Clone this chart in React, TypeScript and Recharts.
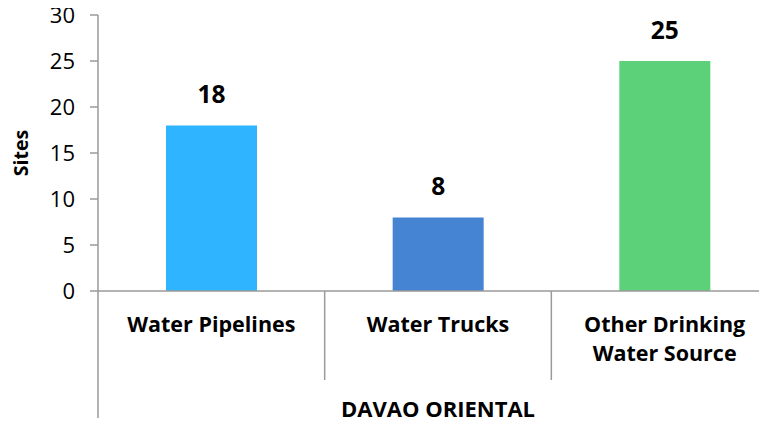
import { BarChart, Bar, XAxis, YAxis, Cell, LabelList, Label } from 'recharts';

const categories = ['Water Pipelines', 'Water Trucks', 'Other Drinking Water Source'];
const sites = [18, 8, 25];
const barColors = ['#2FB4FF', '#4584D3', '#5CD17A'];
const yTicks = [0, 5, 10, 15, 20, 25, 30];
const groupLabel = 'DAVAO ORIENTAL';

const data = categories.map((name, i) => ({ name, sites: sites[i] }));

const CHART_W = 778;
const CHART_H = 426;
const Y_AXIS_W = 98;
const PLOT_W = CHART_W - Y_AXIS_W;
const AXIS_COLOR = '#9a9a9a';
const FONT = '"Open Sans", Lato, sans-serif';

// greedy word wrap so long category names go on two lines
const wrapWords = (text: string, maxChars: number) => {
  const lines: string[] = [];
  let cur = '';
  text.split(' ').forEach((w) => {
    const next = cur ? cur + ' ' + w : w;
    if (next.length > maxChars && cur) {
      lines.push(cur);
      cur = w;
    } else {
      cur = next;
    }
  });
  if (cur) lines.push(cur);
  return lines;
};

// category label plus the Excel-style divider lines under the axis
const CategoryTick = (props: any) => {
  const { x, y, payload, index } = props;
  const band = PLOT_W / categories.length;
  const left = x - band / 2;
  const lines = wrapWords(String(payload.value), 16);
  return (
    <g>
      {index === 0 ? (
        <line x1={left} x2={left} y1={y} y2={y + 135} stroke={AXIS_COLOR} strokeWidth={1.5} />
      ) : (
        <line x1={left} x2={left} y1={y} y2={y + 89} stroke={AXIS_COLOR} strokeWidth={1.5} />
      )}
      <text
        x={x}
        y={y + 41}
        textAnchor="middle"
        fontSize={21.5}
        fontWeight="bold"
        fontFamily={FONT}
        fill="#000"
      >
        {lines.map((l, i) => (
          <tspan key={i} x={x} dy={i === 0 ? 0 : 29}>
            {l}
          </tspan>
        ))}
      </text>
    </g>
  );
};

const SitesLabel = (props: any) => {
  const { viewBox } = props;
  const cx = viewBox.x + 20;
  const cy = viewBox.y + viewBox.height / 2;
  return (
    <text
      x={cx}
      y={cy}
      transform={`rotate(-90, ${cx}, ${cy})`}
      textAnchor="middle"
      dominantBaseline="central"
      fontSize={19.5}
      fontWeight="bold"
      fontFamily={FONT}
      fill="#000"
    >
      Sites
    </text>
  );
};

export default function App() {
  return (
    <div style={{ position: 'relative', margin: -8, width: 767, height: 426, overflow: 'hidden', background: '#fff' }}>
      <BarChart
        width={CHART_W}
        height={CHART_H}
        data={data}
        margin={{ top: 15, right: 0, bottom: 0, left: 0 }}
        barCategoryGap="30%"
      >
        <YAxis
          width={Y_AXIS_W}
          domain={[0, 30]}
          ticks={yTicks}
          interval={0}
          tickSize={8}
          tickMargin={15}
          axisLine={{ stroke: AXIS_COLOR, strokeWidth: 1.5 }}
          tickLine={{ stroke: AXIS_COLOR, strokeWidth: 1.5 }}
          tick={{ fill: '#000', fontSize: 22, fontFamily: FONT }}
        >
          <Label content={<SitesLabel />} />
        </YAxis>
        <XAxis
          dataKey="name"
          height={135}
          interval={0}
          tickSize={0}
          tickMargin={0}
          tickLine={false}
          axisLine={{ stroke: AXIS_COLOR, strokeWidth: 1.5 }}
          tick={<CategoryTick />}
        >
          <Label
            value={groupLabel}
            position="insideBottom"
            offset={9}
            fontSize={22}
            fontWeight="bold"
            fontFamily={FONT}
            fill="#000"
          />
        </XAxis>
        <Bar dataKey="sites" isAnimationActive={false}>
          {data.map((d, i) => (
            <Cell key={d.name} fill={barColors[i]} />
          ))}
          <LabelList
            dataKey="sites"
            position="top"
            offset={22}
            fontSize={24.5}
            fontWeight="bold"
            fontFamily={FONT}
            fill="#000"
          />
        </Bar>
      </BarChart>
    </div>
  );
}
